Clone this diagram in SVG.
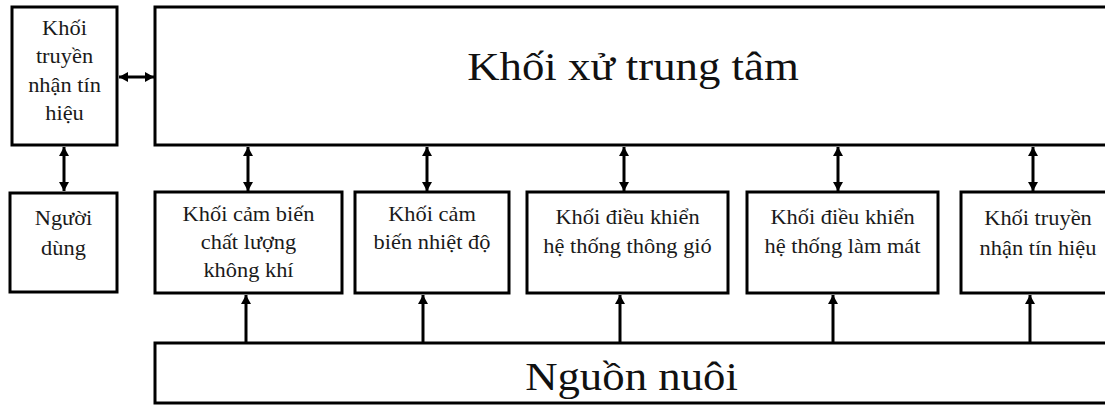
<svg xmlns="http://www.w3.org/2000/svg" width="1105" height="405" viewBox="0 0 1105 405">
<style>
.box{fill:#fff;stroke:#000;stroke-width:3}
.conn{stroke:#000;stroke-width:3;fill:none}
.t{font-family:"Liberation Serif","Times New Roman",serif;font-size:20px;fill:#1a1a1a;text-anchor:middle}
.big{font-family:"Liberation Serif","Times New Roman",serif;font-size:40px;fill:#111;text-anchor:middle}
</style>
<defs>
<marker id="ah" markerUnits="userSpaceOnUse" markerWidth="10" markerHeight="10" refX="9" refY="5" orient="auto-start-reverse">
<path d="M0,0 L9,5 L0,10 z" fill="#000"/>
</marker>
</defs>
<rect width="1105" height="405" fill="#fff"/>
<g id="connectors">
<line class="conn" x1="119" y1="77" x2="154" y2="77" marker-start="url(#ah)" marker-end="url(#ah)"/>
<line class="conn" x1="64" y1="147" x2="64" y2="191" marker-start="url(#ah)" marker-end="url(#ah)"/>
<line class="conn" x1="248" y1="147" x2="248" y2="191" marker-start="url(#ah)" marker-end="url(#ah)"/>
<line class="conn" x1="427" y1="147" x2="427" y2="191" marker-start="url(#ah)" marker-end="url(#ah)"/>
<line class="conn" x1="624" y1="147" x2="624" y2="191" marker-start="url(#ah)" marker-end="url(#ah)"/>
<line class="conn" x1="838" y1="147" x2="838" y2="191" marker-start="url(#ah)" marker-end="url(#ah)"/>
<line class="conn" x1="1033" y1="147" x2="1033" y2="191" marker-start="url(#ah)" marker-end="url(#ah)"/>
<line class="conn" x1="246" y1="342" x2="246" y2="295" marker-end="url(#ah)"/>
<line class="conn" x1="423" y1="342" x2="423" y2="295" marker-end="url(#ah)"/>
<line class="conn" x1="620" y1="342" x2="620" y2="295" marker-end="url(#ah)"/>
<line class="conn" x1="833" y1="342" x2="833" y2="295" marker-end="url(#ah)"/>
<line class="conn" x1="1030" y1="342" x2="1030" y2="295" marker-end="url(#ah)"/>
</g>
<g id="truyen-nhan-trai">
<rect class="box" x="12" y="7" width="105" height="138"/>
<text class="t" transform="translate(64.5,35) scale(1.12,1)"><tspan x="0" y="0">Khối</tspan><tspan x="0" y="28.3">truyền</tspan><tspan x="0" y="56.6">nhận tín</tspan><tspan x="0" y="85">hiệu</tspan></text>
</g>
<g id="trung-tam">
<rect class="box" x="155" y="7" width="960" height="138"/>
<text class="big" transform="translate(633,80) scale(1.12,1)">Khối xử trung tâm</text>
</g>
<g id="nguoi-dung">
<rect class="box" x="10" y="193" width="107" height="99"/>
<text class="t" transform="translate(63.5,225) scale(1.12,1)"><tspan x="0" y="0">Người</tspan><tspan x="0" y="30">dùng</tspan></text>
</g>
<g id="cam-bien-khong-khi">
<rect class="box" x="155" y="192" width="187" height="101"/>
<text class="t" transform="translate(248.5,221) scale(1.12,1)"><tspan x="0" y="0">Khối cảm biến</tspan><tspan x="0" y="28">chất lượng</tspan><tspan x="0" y="56">không khí</tspan></text>
</g>
<g id="cam-bien-nhiet-do">
<rect class="box" x="355" y="192" width="154" height="101"/>
<text class="t" transform="translate(432,221) scale(1.12,1)"><tspan x="0" y="0">Khối cảm</tspan><tspan x="0" y="28">biến nhiệt độ</tspan></text>
</g>
<g id="dieu-khien-thong-gio">
<rect class="box" x="527" y="192" width="201" height="101"/>
<text class="t" transform="translate(627.5,224) scale(1.12,1)"><tspan x="0" y="0">Khối điều khiển</tspan><tspan x="0" y="29">hệ thống thông gió</tspan></text>
</g>
<g id="dieu-khien-lam-mat">
<rect class="box" x="747" y="192" width="191" height="101"/>
<text class="t" transform="translate(842.5,224) scale(1.12,1)"><tspan x="0" y="0">Khối điều khiển</tspan><tspan x="0" y="29">hệ thống làm mát</tspan></text>
</g>
<g id="truyen-nhan-phai">
<rect class="box" x="961" y="192" width="160" height="101"/>
<text class="t" transform="translate(1038,225) scale(1.12,1)"><tspan x="0" y="0">Khối truyền</tspan><tspan x="0" y="30">nhận tín hiệu</tspan></text>
</g>
<g id="nguon-nuoi">
<rect class="box" x="155" y="343" width="960" height="60"/>
<text class="big" transform="translate(631.5,390) scale(1.12,1)">Nguồn nuôi</text>
</g>
</svg>
